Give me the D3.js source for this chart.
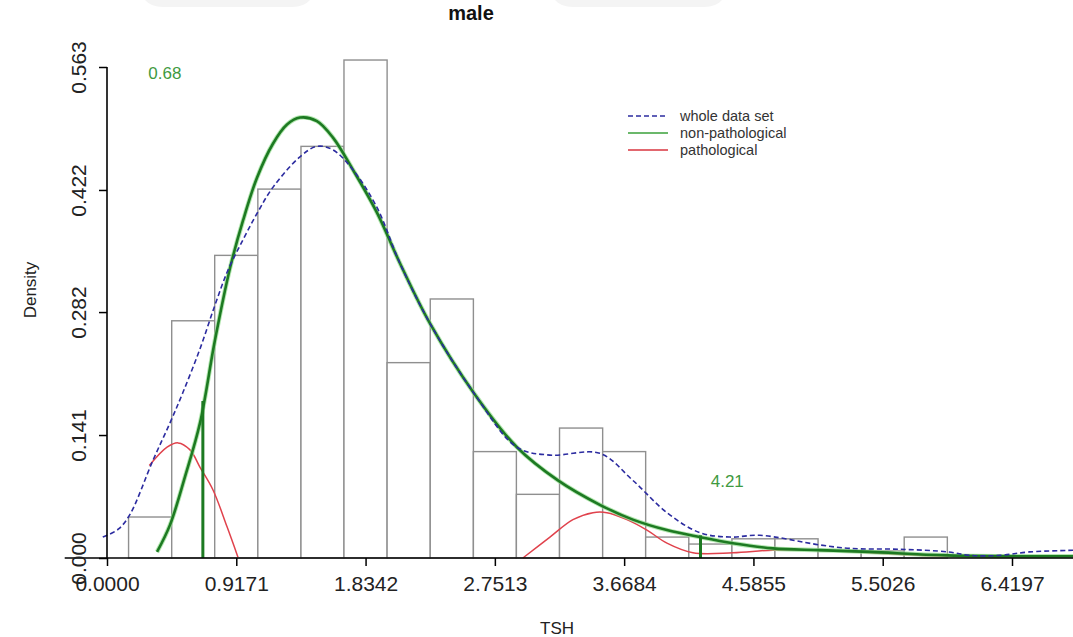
<!DOCTYPE html>
<html>
<head>
<meta charset="utf-8">
<script src="https://cdn.jsdelivr.net/npm/d3@7"></script>
<style>
  body { margin: 0; background: #fff; }
  svg { display: block; font-family: "Liberation Sans", Arial, sans-serif; }
</style>
</head>
<body>
<script>
// histogram bins (TSH) and densities
var binEdges = [0.153, 0.459, 0.764, 1.070, 1.376, 1.681, 1.987, 2.293, 2.599, 2.904,
                3.210, 3.516, 3.821, 4.127, 4.433, 4.738, 5.044, 5.350, 5.655, 5.961];
var binDensity = [0.047, 0.272, 0.347, 0.423, 0.472, 0.571, 0.224, 0.297, 0.122, 0.073,
                  0.149, 0.122, 0.024, 0.016, 0.022, 0.022, 0.008, 0.008, 0.024];

// whole data set density (dashed)
var wholeX = [-0.03, 0.08, 0.163, 0.326, 0.447, 0.539, 0.66, 0.766, 0.858, 0.965, 1.064,
              1.177, 1.369, 1.489, 1.603, 1.745, 1.915, 2.078, 2.291, 2.603, 2.908, 3.142,
              3.496, 3.73, 3.972, 4.206, 4.418, 4.631, 5.057, 5.27, 5.624, 5.965, 6.121,
              6.333, 6.546, 6.9];
var wholeY = [0.024, 0.033, 0.05, 0.112, 0.155, 0.19, 0.24, 0.29, 0.33, 0.365, 0.395,
              0.425, 0.46, 0.472, 0.468, 0.445, 0.402, 0.338, 0.269, 0.189, 0.127, 0.118,
              0.12, 0.089, 0.052, 0.029, 0.024, 0.026, 0.015, 0.011, 0.01, 0.007, 0.003,
              0.003, 0.007, 0.009];

// non-pathological component
var nonpathX = [0.355, 0.447, 0.553, 0.66, 0.766, 0.872, 0.965, 1.064, 1.177, 1.277, 1.369,
                1.489, 1.603, 1.745, 1.915, 2.078, 2.291, 2.603, 2.908, 3.199, 3.496, 3.73,
                3.972, 4.206, 4.44, 4.723, 5.057, 5.411, 5.965, 6.9];
var nonpathY = [0.007, 0.038, 0.093, 0.155, 0.25, 0.332, 0.387, 0.436, 0.475, 0.497, 0.505,
                0.501, 0.482, 0.445, 0.396, 0.338, 0.269, 0.189, 0.127, 0.089, 0.061, 0.044,
                0.032, 0.024, 0.017, 0.011, 0.009, 0.007, 0.003, 0.002];

// pathological components (low and high)
var pathLowX = [0.30, 0.426, 0.504, 0.589, 0.66, 0.752, 0.851, 0.929];
var pathLowY = [0.106, 0.127, 0.132, 0.124, 0.104, 0.078, 0.036, 0.001];
var pathHighX = [2.95, 3.142, 3.305, 3.447, 3.546, 3.688, 3.83, 3.972, 4.156, 4.44, 4.723,
                 5.057, 5.411, 5.965, 6.9];
var pathHighY = [0.0, 0.024, 0.044, 0.052, 0.052, 0.044, 0.032, 0.017, 0.006, 0.006, 0.009,
                 0.009, 0.006, 0.002, 0.002];

// cut-off values
var cutValues = [0.68, 4.21];
var cutHeights = [0.18, 0.026];
var cutLabelX = [0.41, 4.40];
var cutLabelY = [0.555, 0.088];

var xTicks = [0, 0.9171, 1.8342, 2.7513, 3.6684, 4.5855, 5.5026, 6.4197];
var yTicks = [0, 0.141, 0.282, 0.422, 0.563];

var legendLabels = ["whole data set", "non-pathological", "pathological"];

var W = 1073, H = 637;

var svg = d3.select("body").append("svg")
  .attr("width", W)
  .attr("height", H);

var x = d3.scaleLinear().domain([0, 6.4197]).range([107, 1012]);
var y = d3.scaleLinear().domain([0, 0.563]).range([558, 67]);

// faint page decoration along the top edge
[[145, 310], [555, 722]].forEach(function(s){
  svg.append("path")
    .attr("d", "M" + s[0] + ",0 Q" + (s[0] + 6) + ",7 " + (s[0] + 18) + ",7 L" + (s[1] - 18) + ",7 Q" + (s[1] - 6) + ",7 " + s[1] + ",0 Z")
    .attr("fill", "#f4f4f4");
});

// bars
var bars = binDensity.map(function(d, i){
  return {x0: binEdges[i], x1: binEdges[i + 1], h: d};
});
svg.append("g").selectAll("rect")
  .data(bars)
  .enter().append("rect")
  .attr("x", function(d){ return x(d.x0); })
  .attr("y", function(d){ return y(d.h); })
  .attr("width", function(d){ return x(d.x1) - x(d.x0); })
  .attr("height", function(d){ return y(0) - y(d.h); })
  .attr("fill", "#fff")
  .attr("stroke", "#8f8f8f")
  .attr("stroke-width", 1.4);

function pts(xs, ys){
  return xs.map(function(v, i){ return [v, ys[i]]; });
}
var line = d3.line()
  .x(function(d){ return x(d[0]); })
  .y(function(d){ return y(d[1]); })
  .curve(d3.curveCatmullRom.alpha(0.5));

// red curves
[pts(pathLowX, pathLowY), pts(pathHighX, pathHighY)].forEach(function(p){
  svg.append("path").attr("d", line(p))
    .attr("fill", "none").attr("stroke", "#e0424c").attr("stroke-width", 1.5);
});

// green curve with soft halo
var np = pts(nonpathX, nonpathY);
svg.append("path").attr("d", line(np))
  .attr("fill", "none").attr("stroke", "#93dd8f").attr("stroke-width", 4.5).attr("opacity", 0.7);
svg.append("path").attr("d", line(np))
  .attr("fill", "none").attr("stroke", "#1d7a22").attr("stroke-width", 2.6);

// cut-off lines
cutValues.forEach(function(c, i){
  svg.append("line")
    .attr("x1", x(c)).attr("x2", x(c))
    .attr("y1", y(0)).attr("y2", y(cutHeights[i]))
    .attr("stroke", "#1d7a22").attr("stroke-width", 3);
  svg.append("text")
    .attr("x", x(cutLabelX[i])).attr("y", y(cutLabelY[i]))
    .attr("text-anchor", "middle")
    .attr("dominant-baseline", "central")
    .attr("fill", "#3f9a3f")
    .attr("font-size", 17)
    .text(d3.format(".2f")(c));
});

// blue dashed
svg.append("path").attr("d", line(pts(wholeX, wholeY)))
  .attr("fill", "none").attr("stroke", "#2c2ca0").attr("stroke-width", 1.6)
  .attr("stroke-dasharray", "5,3");

// axes
var xAxis = svg.append("g")
  .attr("transform", "translate(0," + y(0) + ")")
  .call(d3.axisBottom(x).tickValues(xTicks).tickFormat(d3.format(".4f")).tickSize(8).tickPadding(10));
xAxis.select(".domain").remove();
xAxis.selectAll("line").attr("stroke", "#000").attr("stroke-width", 1.5);
xAxis.selectAll("text").attr("font-size", 21).attr("fill", "#222")
  .attr("font-family", "Liberation Sans, Arial, sans-serif");
svg.append("line")
  .attr("x1", x(-0.3)).attr("x2", W)
  .attr("y1", y(0)).attr("y2", y(0))
  .attr("stroke", "#000").attr("stroke-width", 1.6);

var yAxis = svg.append("g")
  .attr("transform", "translate(" + x(0) + ",0)")
  .call(d3.axisLeft(y).tickValues(yTicks).tickFormat(d3.format(".3f")).tickSize(8).tickPadding(6));
yAxis.select(".domain").remove();
yAxis.selectAll("line").attr("stroke", "#000").attr("stroke-width", 1.5);
yAxis.selectAll("text")
  .attr("font-size", 21).attr("fill", "#222")
  .attr("font-family", "Liberation Sans, Arial, sans-serif")
  .attr("text-anchor", "middle")
  .attr("dy", null)
  .attr("x", null)
  .attr("transform", "translate(-21,0) rotate(-90)");
svg.append("line")
  .attr("x1", x(0)).attr("x2", x(0))
  .attr("y1", y(0)).attr("y2", y(0.563))
  .attr("stroke", "#000").attr("stroke-width", 1.6);

// titles
svg.append("text").attr("x", 471).attr("y", 20)
  .attr("text-anchor", "middle").attr("font-weight", "bold").attr("font-size", 20)
  .attr("fill", "#111").text("male");
svg.append("text").attr("x", 557).attr("y", 634)
  .attr("text-anchor", "middle").attr("font-size", 17).attr("fill", "#222").text("TSH");
svg.append("text")
  .attr("transform", "translate(36,290) rotate(-90)")
  .attr("text-anchor", "middle").attr("font-size", 17).attr("fill", "#222").text("Density");

// legend
var legendColors = ["#2c2ca0", "#3aa03a", "#d9343f"];
var legendDash = ["5,3", null, null];
var lg = svg.append("g").attr("transform", "translate(628,116)");
legendLabels.forEach(function(t, i){
  var row = lg.append("g").attr("transform", "translate(0," + (i * 17) + ")");
  row.append("line").attr("x1", 0).attr("x2", 40).attr("y1", 0).attr("y2", 0)
    .attr("stroke", legendColors[i]).attr("stroke-width", 1.4)
    .attr("stroke-dasharray", legendDash[i]);
  row.append("text").attr("x", 52).attr("y", 0)
    .attr("dominant-baseline", "central")
    .attr("font-size", 14.5).attr("fill", "#333").text(t);
});
</script>
</body>
</html>
